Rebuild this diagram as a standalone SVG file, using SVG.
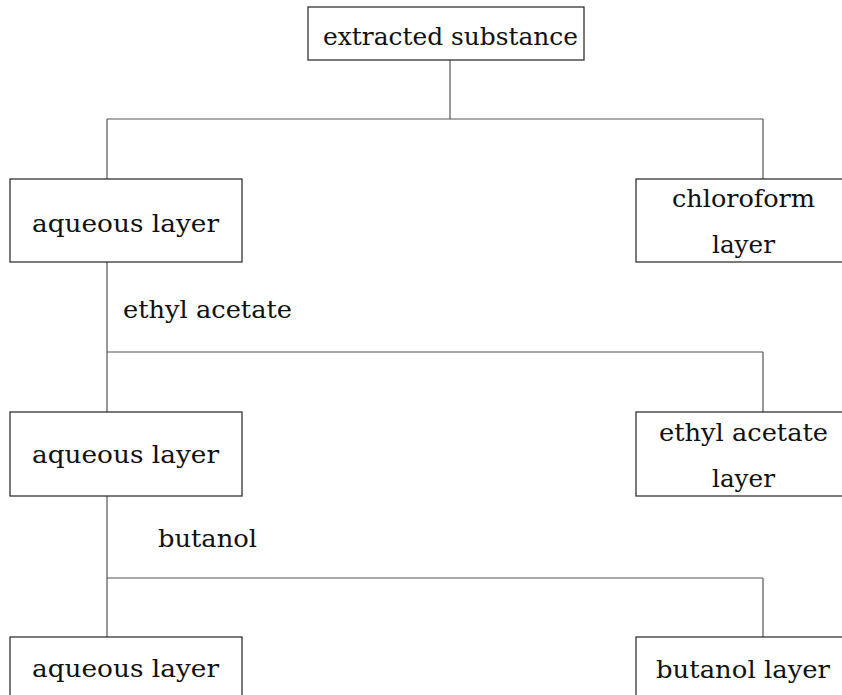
<svg xmlns="http://www.w3.org/2000/svg" width="842" height="695" viewBox="0 0 842 695">
<style>
.box{fill:#fff;stroke:#222;stroke-width:1.2}
.ln{fill:none;stroke:#555;stroke-width:1.2}
text{font-family:'DejaVu Serif','Liberation Serif',serif;font-size:24px;fill:#111}
</style>
<rect width="842" height="695" fill="#fff"/>
<g id="connectors">
<path class="ln" d="M450 60V119M107 119H763M107 119V179M763 119V179"/>
<path class="ln" d="M107 262V412M107 352H763M763 352V412"/>
<path class="ln" d="M107 496V637M107 578H763M763 578V637"/>
<text x="123" y="318" textLength="169" lengthAdjust="spacingAndGlyphs">ethyl  acetate</text>
<text x="158" y="547" textLength="99" lengthAdjust="spacingAndGlyphs">butanol</text>
</g>
<g id="n-extracted">
<rect class="box" x="308" y="7" width="276" height="53"/>
<text x="323" y="45" textLength="255" lengthAdjust="spacingAndGlyphs">extracted  substance</text>
</g>
<g id="n-aq1">
<rect class="box" x="10" y="179" width="232" height="83"/>
<text x="32" y="232" textLength="187" lengthAdjust="spacingAndGlyphs">aqueous  layer</text>
</g>
<g id="n-chloroform">
<rect class="box" x="636" y="179" width="214" height="83"/>
<text x="672" y="207" textLength="143" lengthAdjust="spacingAndGlyphs">chloroform</text>
<text x="712" y="253" textLength="63" lengthAdjust="spacingAndGlyphs">layer</text>
</g>
<g id="n-aq2">
<rect class="box" x="10" y="412" width="232" height="84"/>
<text x="32" y="463" textLength="187" lengthAdjust="spacingAndGlyphs">aqueous  layer</text>
</g>
<g id="n-ethyl">
<rect class="box" x="636" y="412" width="214" height="84"/>
<text x="659" y="441" textLength="169" lengthAdjust="spacingAndGlyphs">ethyl  acetate</text>
<text x="712" y="487" textLength="63" lengthAdjust="spacingAndGlyphs">layer</text>
</g>
<g id="n-aq3">
<rect class="box" x="10" y="637" width="232" height="80"/>
<text x="32" y="677" textLength="187" lengthAdjust="spacingAndGlyphs">aqueous  layer</text>
</g>
<g id="n-butanol">
<rect class="box" x="636" y="637" width="214" height="80"/>
<text x="656" y="678" textLength="174" lengthAdjust="spacingAndGlyphs">butanol  layer</text>
</g>
</svg>
